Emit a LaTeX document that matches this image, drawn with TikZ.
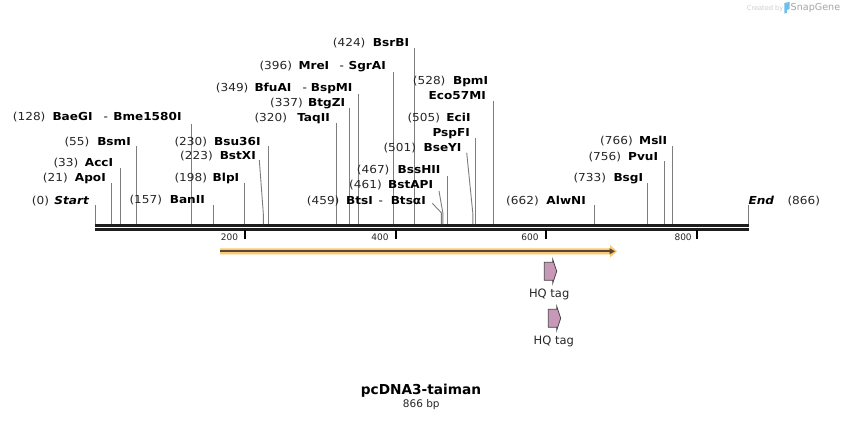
\documentclass[tikz,border=0pt]{standalone}
\usepackage{fontspec}
\setmainfont{DejaVu Sans}
\newfontfamily\labfont[FakeStretch=1.1]{DejaVu Sans}
\definecolor{sitegray}{RGB}{125,125,125}
\definecolor{bbcol}{RGB}{30,30,30}
\definecolor{orangeband}{RGB}{252,200,112}
\definecolor{orangeline}{RGB}{88,72,50}
\definecolor{tagfill}{RGB}{200,152,184}
\definecolor{tagedge}{RGB}{70,70,70}
\definecolor{credit}{RGB}{205,205,205}
\definecolor{creditdark}{RGB}{165,165,165}
\definecolor{logoblue}{RGB}{110,190,238}
\newcommand\vsite[3]{% id, x, ytop
  \coordinate (#1t) at (#2,#3); \coordinate (#1b) at (#2,224);
  \draw[siteline] (#1t) -- (#1b);}
\newcommand\ssite[5]{% id, x1, y1, x2, ybend
  \coordinate (#1t) at (#2,#3); \coordinate (#1k) at (#4,#5); \coordinate (#1b) at (#4,224);
  \draw[siteline] (#1t) -- (#1k) -- (#1b);}
\newcommand\lab[6]{% id, num start x, name end x, baseline y, number, name
  \node[numtxt,anchor=base west] (#1n) at (#2,#4) {(#5)};
  \node[enztxt,anchor=base east] (#1e) at (#3,#4) {#6};}
\newcommand\hqtag[3]{% id, left, top
  \path[tagshape] (#2,#3+3) -- (#2+8.4,#3+3) -- (#2+8.4,#3) -- (#2+12.4,#3+12)
    -- (#2+8.4,#3+24) -- (#2+8.4,#3+21) -- (#2,#3+21) -- cycle;
  \coordinate (#1) at (#2+6,#3+12);}
\begin{document}
\begin{tikzpicture}[x=1pt,y=-1pt,
  siteline/.style={draw=sitegray,line width=0.9pt},
  numtxt/.style={inner sep=0pt,font=\labfont\fontsize{11}{13}\selectfont,text=black!85},
  enztxt/.style={inner sep=0pt,font=\labfont\fontsize{11}{13}\selectfont\bfseries,text=black},
  hyph/.style={inner sep=0pt,font=\labfont\fontsize{11}{13}\selectfont,text=black},
  ticklab/.style={inner sep=0pt,font=\fontsize{9}{11}\selectfont,text=black!85},
  tick/.style={draw=black,line width=2pt},
  tagshape/.style={fill=tagfill,draw=tagedge,line width=0.8pt,line join=miter},
  taglab/.style={inner sep=0pt,font=\fontsize{11.5}{13}\selectfont,text=black!85},
]
\useasboundingbox (0,0) rectangle (844,421);
\fill[white] (0,0) rectangle (844,421);

% credit
\node[inner sep=0pt,anchor=base west,font=\fontsize{6.6}{8}\selectfont,text=credit] (cred) at (746.7,10) {Created by};
\path[fill=logoblue] (784.3,3) -- (789.5,2) -- (789.5,9) -- (786.8,10) -- (786.8,13) -- (784.3,13.5) -- cycle;
\node[inner sep=0pt,anchor=base west,font=\fontsize{9.6}{11}\selectfont,text=creditdark] (snap) at (790.5,10.5) {SnapGene};

% backbone
\coordinate (bbL) at (95,225.2); \coordinate (bbR) at (748.6,225.2);
\coordinate (bbL2) at (95,229.7); \coordinate (bbR2) at (748.6,229.7);
\draw[bbcol,line width=3pt] (bbL) -- (bbR);
\draw[bbcol,line width=2.6pt] (bbL2) -- (bbR2);

% ticks
\foreach \tx/\tl/\te in {244.8/200/238.2, 396/400/388.8, 546.2/600/538.8, 697/800/691.9}{
  \coordinate (tk\tl a) at (\tx,230); \coordinate (tk\tl b) at (\tx,238.5);
  \draw[tick] (tk\tl a) -- (tk\tl b);
  \node[ticklab,anchor=base east] (tl\tl) at (\te,240) {\tl};
}

% site lines
\vsite{start}{95.4}{205}
\vsite{apoi}{111.2}{183.3}
\vsite{acci}{120.3}{168.3}
\vsite{bsmi}{136.7}{146}
\vsite{baegi}{191.8}{124}
\vsite{banii}{213.6}{205}
\vsite{blpi}{244.8}{183.3}
\ssite{bstxi}{259.3}{160}{263.3}{213.3}
\vsite{bsuii}{268.6}{146}
\vsite{taqii}{336.7}{123.3}
\vsite{btgzi}{349.3}{108.3}
\vsite{bfuai}{358.3}{94}
\vsite{mrei}{393.7}{71.7}
\vsite{bsrbi}{414.6}{48.3}
\ssite{btsi}{432.3}{203.3}{441.3}{212.7}
\ssite{bstapi}{439}{191}{442.8}{212.7}
\vsite{bsshii}{447.3}{176}
\ssite{bseyi}{466.7}{152.7}{472.8}{213}
\vsite{ecii}{475.6}{138.3}
\vsite{bpmi}{493.3}{100.7}
\vsite{alwni}{594}{205}
\vsite{bsgi}{647.5}{183.3}
\vsite{pvui}{664.8}{161}
\vsite{msli}{672.4}{146}
\vsite{endl}{748.3}{205}

% labels
\node[numtxt,anchor=base west] (startn) at (31.7,204) {(0)};
\node[enztxt,anchor=base east] (starte) at (89,204) {\itshape Start};
\lab{apoi}{42.7}{106}{181.6}{21}{ApoI}
\lab{acci}{53.3}{113.3}{166.3}{33}{AccI}
\lab{bsmi}{64.3}{131}{145}{55}{BsmI}
\node[numtxt,anchor=base west] (baegin) at (12.7,120.3) {(128)};
\node[enztxt,anchor=base west] (baegie) at (52.3,120.3) {BaeGI};
\node[hyph,anchor=base west] (baegih) at (103.3,120.3) {-};
\node[enztxt,anchor=base east] (bmee) at (181.7,120.3) {Bme1580I};
\lab{banii}{129.3}{205}{203.6}{157}{BanII}
\node[numtxt,anchor=base west] (blpin) at (174.3,181.6) {(198)};
\node[enztxt,anchor=base west] (blpie) at (212.5,181.6) {BlpI};
\lab{bstxi}{180}{256}{159.3}{223}{BstXI}
\lab{bsuii}{174.3}{260.7}{145}{230}{Bsu36I}
\lab{taqii}{254.3}{330}{121.6}{320}{TaqII}
\lab{btgzi}{270}{345.3}{106.3}{337}{BtgZI}
\node[numtxt,anchor=base west] (bfuain) at (215.7,91.6) {(349)};
\node[enztxt,anchor=base west] (bfuaie) at (254.3,91.6) {BfuAI};
\node[hyph,anchor=base west] (bfuaih) at (302.3,91.6) {-};
\node[enztxt,anchor=base east] (bspmie) at (352.7,91.6) {BspMI};
\node[numtxt,anchor=base west] (mrein) at (259.3,69.3) {(396)};
\node[enztxt,anchor=base west] (mreie) at (298.3,69.3) {MreI};
\node[hyph,anchor=base west] (mreih) at (339.3,69.3) {-};
\node[enztxt,anchor=base east] (sgraie) at (386,69.3) {SgrAI};
\lab{bsrbi}{332.7}{409.3}{46.6}{424}{BsrBI}
\lab{bpmi}{412.7}{488.3}{84.3}{528}{BpmI}
\node[enztxt,anchor=base east] (eco57mie) at (486,99.3) {Eco57MI};
\lab{ecii}{407.3}{470.7}{121.6}{505}{EciI}
\node[enztxt,anchor=base east] (pspfie) at (470,136.6) {PspFI};
\lab{bseyi}{383.3}{461.7}{151}{501}{BseYI}
\lab{bsshii}{356.7}{440.7}{173.6}{467}{BssHII}
\lab{bstapi}{349}{433.3}{188.6}{461}{BstAPI}
\node[numtxt,anchor=base west] (btsin) at (306.7,204.3) {(459)};
\node[enztxt,anchor=base west] (btsie) at (346,204.3) {BtsI};
\node[hyph,anchor=base west] (btsih) at (378.3,204.3) {-};
\node[enztxt,anchor=base east] (btsaie) at (426,204.3) {Btsα{}I};
\lab{alwni}{506}{586}{204.3}{662}{AlwNI}
\lab{bsgi}{573.3}{643.3}{181}{733}{BsgI}
\lab{pvui}{588.3}{658.3}{160}{756}{PvuI}
\lab{msli}{600}{667.3}{144.3}{766}{MslI}
\node[enztxt,anchor=base west] (ende) at (748.3,204.3) {\itshape End};
\node[numtxt,anchor=base west] (endn) at (787.3,204.3) {(866)};

% feature arrow
\coordinate (fa) at (220,251.3); \coordinate (fb) at (617,251.3);
\path[fill=orangeband] (220,248.3) -- (610,248.3) -- (610,245) -- (fb) -- (610,257.6) -- (610,254.3) -- (220,254.3) -- cycle;
\coordinate (fc) at (611,251.3);
\draw[orangeline,line width=2pt] (fa) -- (fc);
\path[fill=orangeline] (609.5,248.2) -- (615,251.3) -- (609.5,254.4) -- cycle;

% HQ tags
\hqtag{hq1}{544.3}{259.3}
\node[taglab,anchor=base] (hq1l) at (549.2,297.5) {HQ tag};
\hqtag{hq2}{548.3}{306.3}
\node[taglab,anchor=base] (hq2l) at (553.8,344.2) {HQ tag};

% title
\node[inner sep=0pt,anchor=base,font=\fontsize{13.7}{16}\selectfont\bfseries,text=black] (title) at (421,394) {pcDNA3-taiman};
\node[inner sep=0pt,anchor=base,font=\fontsize{10.5}{12}\selectfont,text=black!85] (len) at (421.3,407.5) {866 bp};
\end{tikzpicture}
\end{document}
